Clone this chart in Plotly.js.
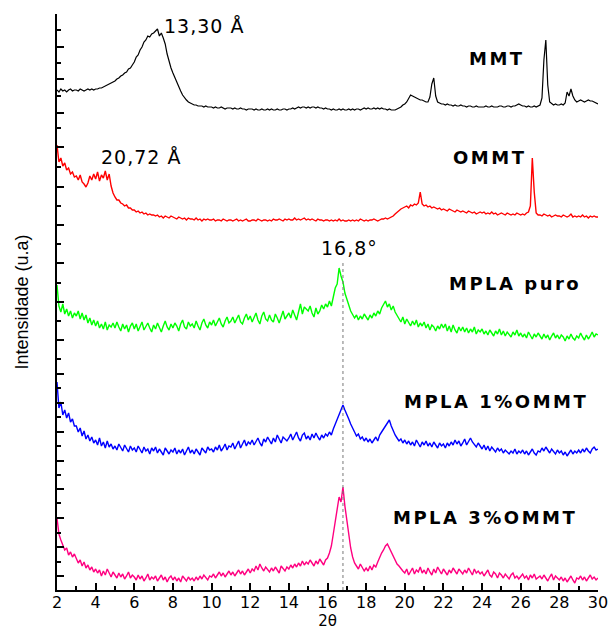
<!DOCTYPE html>
<html>
<head>
<meta charset="utf-8">
<script src="https://cdn.plot.ly/plotly-3.0.1.min.js"></script>
<style>html,body{margin:0;padding:0;background:#fff;}#chart{width:608px;height:632px;}</style>
</head>
<body>
<div id="chart"></div>
<script>
// 2θ sampling of the scans
const twoThetaStart = 2;
const twoThetaStep = 0.1;

// Stacked intensities (a.u.), one value per 0.1° from 2° to 30°
const mmt = [
500,498,501,499,500,498,500,501,499,500,
500,499,501,500,499,500,501,500,501,500,
501,501,502,502,503,504,505,506,507,508,
509,511,512,514,515,517,518,521,522,525,
528,533,535,540,543,548,550,554,553,556,
557,559,561,554,557,552,546,536,528,522,
517,512,508,503,499,495,492,490,488,487,
486,485,485,484,484,484,483,484,483,483,
483,482,483,482,482,483,482,481,482,482,
482,481,482,481,481,482,481,481,480,481,
481,481,480,481,480,480,481,480,480,481,
480,481,480,480,481,480,480,481,481,480,
481,481,482,481,482,483,482,483,483,482,
483,482,483,483,482,483,482,482,481,482,
481,481,480,481,480,480,481,480,481,480,
480,481,480,481,480,481,481,480,481,482,
481,482,481,481,482,481,482,481,482,481,
481,480,481,480,480,480,481,482,483,485,
486,488,491,495,494,493,492,491,490,490,
489,488,488,493,506,512,494,488,487,486,
486,485,486,485,485,484,485,484,484,485,
484,484,483,484,484,483,483,484,483,483,
483,483,484,483,483,484,483,483,483,484,
484,483,483,484,484,483,484,484,485,486,
485,484,484,483,484,483,483,484,483,484,
485,492,530,550,505,488,486,485,486,485,
485,486,485,487,498,494,501,494,490,488,
489,490,489,488,489,490,489,489,488,487,
486];

const ommt = [
445,428,432,424,427,420,422,416,418,413,
414,410,415,408,406,403,407,414,410,416,
411,418,409,415,412,419,410,416,404,397,
393,390,390,387,386,384,385,382,382,380,
380,378,379,377,378,376,377,375,376,375,
375,374,375,373,374,372,374,373,372,374,
373,372,371,373,372,371,372,370,372,371,
371,370,372,370,371,369,371,370,371,370,
370,371,369,370,370,369,371,370,369,370,
370,369,370,371,369,370,369,370,371,369,
369,370,370,369,371,370,369,370,370,369,
370,369,371,370,370,371,370,369,371,370,
371,370,370,372,370,371,370,371,372,370,
371,370,371,370,369,371,370,370,369,370,
370,369,370,369,370,369,371,369,370,369,
369,370,369,370,369,370,369,371,370,369,
370,369,370,370,371,370,369,370,371,371,
372,371,372,373,374,376,378,380,381,382,
383,384,382,385,384,386,385,387,398,386,
384,385,383,384,382,383,382,381,382,380,
381,380,379,381,380,379,378,380,379,378,
379,378,377,379,378,377,378,376,377,378,
377,378,376,377,376,378,376,377,375,376,
377,376,375,377,376,375,376,375,377,376,
375,376,375,377,378,384,432,398,377,375,
375,374,376,375,374,375,373,374,375,374,
374,373,375,374,373,374,376,373,374,373,
374,373,375,373,374,372,374,373,374,373,
373];

const mplaPuro = [
305,284,278,286,276,281,274,279,272,277,
274,279,271,277,270,275,267,272,265,270,
264,269,262,266,261,268,260,265,263,267,
262,268,263,259,266,261,265,258,264,267,
261,266,259,264,268,260,263,267,262,258,
265,261,267,262,258,264,269,263,260,266,
262,267,264,259,266,270,263,261,268,264,
266,262,269,264,260,267,271,265,262,268,
265,270,264,268,272,266,263,269,273,267,
269,273,267,271,275,268,266,272,276,270,
274,268,272,277,270,266,274,278,271,269,
275,270,268,276,272,267,273,279,271,274,
277,272,280,275,270,278,286,276,283,281,
279,284,277,273,282,276,279,285,281,286,
283,289,284,293,302,306,322,314,308,297,
290,285,279,276,272,275,270,274,271,276,
273,270,275,272,277,274,279,276,282,286,
289,283,286,280,284,278,275,272,268,273,
266,271,268,264,269,265,270,263,267,264,
268,262,266,260,265,263,259,264,261,266,
262,266,259,264,258,265,260,257,263,259,
263,258,262,257,261,258,263,256,260,258,
261,256,259,255,260,257,254,259,256,261,
255,259,254,258,256,253,258,255,260,254,
257,253,256,252,258,254,251,256,253,257,
254,251,256,252,255,250,254,257,252,255,
251,255,253,249,254,251,256,252,250,254,
252,257,253,250,255,251,254,258,253,256,
255];

const mpla1 = [
208,182,188,175,180,172,177,168,171,164,
164,158,162,154,159,151,155,149,153,147,
150,145,152,144,148,142,149,143,146,141,
144,140,146,142,139,145,141,138,144,140,
142,138,144,140,137,143,139,141,136,142,
139,143,137,141,138,135,142,139,136,140,
138,142,136,140,137,141,135,139,143,137,
140,136,141,138,135,142,139,137,143,140,
141,138,143,140,145,139,142,146,140,144,
143,147,141,145,149,142,146,150,144,148,
146,150,145,149,152,147,144,151,148,153,
149,146,152,148,155,150,147,153,151,149,
152,156,150,154,158,152,149,155,157,151,
154,150,156,152,157,153,150,155,152,156,
154,158,155,161,166,170,176,181,185,180,
176,171,166,161,158,154,156,151,153,149,
152,148,151,147,150,153,149,155,158,161,
163,167,170,164,159,155,152,149,151,147,
150,146,149,145,148,144,150,146,143,148,
145,149,144,147,143,148,145,142,147,144,
146,142,147,144,148,145,150,146,149,144,
147,151,145,149,152,148,146,143,147,144,
141,145,140,144,139,143,141,138,142,139,
141,137,140,138,136,139,137,141,136,139,
137,140,136,139,135,138,141,137,135,139,
138,142,139,143,140,137,141,138,136,140,
137,139,135,138,134,137,140,136,139,137,
140,137,141,138,142,139,137,141,143,140,
141];

const mpla3 = [
72,56,50,45,40,42,35,38,33,36,
32,27,30,24,28,22,25,20,23,18,
21,17,20,14,19,15,21,16,13,18,
15,12,17,13,16,11,14,18,12,15,
13,10,15,11,14,9,12,16,10,13,
11,14,9,12,15,10,13,8,12,14,
10,13,9,12,8,14,11,9,13,10,
12,9,13,10,14,11,15,12,10,14,
13,16,12,15,18,14,17,13,16,19,
15,18,14,17,20,16,19,15,18,21,
17,21,19,24,20,26,22,19,23,20,
18,22,19,23,20,17,24,21,19,23,
21,25,22,26,23,27,24,29,25,28,
26,30,27,24,29,26,31,28,25,30,
32,37,44,56,68,80,93,88,103,84,
68,52,42,33,27,24,21,26,22,19,
22,19,24,20,25,23,28,33,37,40,
44,46,42,38,35,31,26,24,21,19,
17,21,15,19,22,16,20,18,23,17,
20,16,22,18,15,21,17,23,19,16,
21,18,15,20,17,22,19,16,21,18,
16,20,17,22,18,15,21,17,19,16,
18,14,17,20,15,13,18,16,12,17,
15,12,16,13,11,15,17,12,14,11,
13,16,12,14,10,15,12,16,11,13,
14,11,15,12,9,13,16,10,14,12,
10,13,9,12,8,11,14,10,7,12,
11,14,10,13,9,12,15,11,13,10,
12];

const seriesNames = ["MMT", "OMMT", "MPLA puro", "MPLA 1%OMMT", "MPLA 3%OMMT"];
const seriesValues = [mmt, ommt, mplaPuro, mpla1, mpla3];
const seriesColors = ["#000000", "#ff0000", "#00ff00", "#0000ff", "#ff0080"];

// annotation texts and anchor points (2θ, a.u.)
const labelTexts = ["13,30 Å", "20,72 Å", "16,8°"];
const labelX = [9.6, 6.37, 17.15];
const labelY = [564, 433, 342];
const nameX = [24.77, 24.36, 25.7, 24.72, 24.15];
const nameY = [532, 433, 307, 189, 73];
const peakLine = {x: 16.8, yTop: 330};

const traces = seriesValues.map((vals, i) => ({
  type: "scatter",
  mode: "lines",
  name: seriesNames[i],
  x0: twoThetaStart,
  dx: twoThetaStep,
  y: vals,
  line: {color: seriesColors[i], width: i === 0 ? 1.2 : 1.4},
  hoverinfo: "skip"
}));

const annotations = [];
labelTexts.forEach((t, i) => annotations.push({
  x: labelX[i], y: labelY[i], xref: "x", yref: "y",
  text: '<span style="letter-spacing:1px">' + t + '</span>', showarrow: false,
  xanchor: "center", yanchor: "middle",
  font: {family: "DejaVu Sans", size: 19, color: "#000"}
}));
seriesNames.forEach((t, i) => annotations.push({
  x: nameX[i], y: nameY[i], xref: "x", yref: "y",
  text: '<b><span style="letter-spacing:2.5px">' + t + '</span></b>', showarrow: false,
  xanchor: "center", yanchor: "middle",
  font: {family: "DejaVu Sans", size: 18, color: "#000"}
}));

const layout = {
  width: 608, height: 632,
  margin: {l: 57, r: 10, t: 14, b: 42},
  paper_bgcolor: "#fff", plot_bgcolor: "#fff",
  showlegend: false,
  font: {family: "DejaVu Sans", color: "#000"},
  xaxis: {
    range: [2, 30.0001], tickmode: "linear", tick0: 2, dtick: 2,
    ticks: "inside", ticklen: 7, tickwidth: 2, tickcolor: "#000",
    minor: {dtick: 1, tick0: 2, ticks: "inside", ticklen: 4, tickwidth: 2, tickcolor: "#000"},
    showline: true, linewidth: 2, linecolor: "#000",
    showgrid: false, zeroline: false,
    ticklabeloverflow: "allow",
    ticklabelstandoff: -3,
    tickfont: {family: "DejaVu Sans", size: 16, color: "#000"},
    title: {text: "2θ", font: {family: "DejaVu Sans", size: 15, color: "#000"}, standoff: 4}
  },
  yaxis: {
    range: [0, 576],
    tickmode: "array",
    tickvals: [576,543,511,477,443,403,365,327,288,250,216,187,158,129,101,72,43,14],
    ticktext: Array(18).fill(""),
    showticklabels: false,
    ticks: "inside", ticklen: 7, tickwidth: 2, tickcolor: "#000",
    minor: {tickmode: "array", tickvals: [560,527,494,462,423,384,346,307,269,231,202,173,144,115,87,57,28],
            ticks: "inside", ticklen: 4, tickwidth: 2, tickcolor: "#000"},
    showline: true, linewidth: 2, linecolor: "#000",
    showgrid: false, zeroline: false,
    title: {text: "Intensidade (u.a)", font: {family: "Liberation Sans, Arial", size: 18, color: "#000"}, standoff: 22}
  },
  shapes: [{
    type: "line", xref: "x", yref: "y",
    x0: peakLine.x, x1: peakLine.x, y0: 0, y1: peakLine.yTop,
    line: {color: "#777", width: 1, dash: "dot"}
  }],
  annotations: annotations
};

Plotly.newPlot("chart", traces, layout, {displayModeBar: false, staticPlot: true});
</script>
</body>
</html>
